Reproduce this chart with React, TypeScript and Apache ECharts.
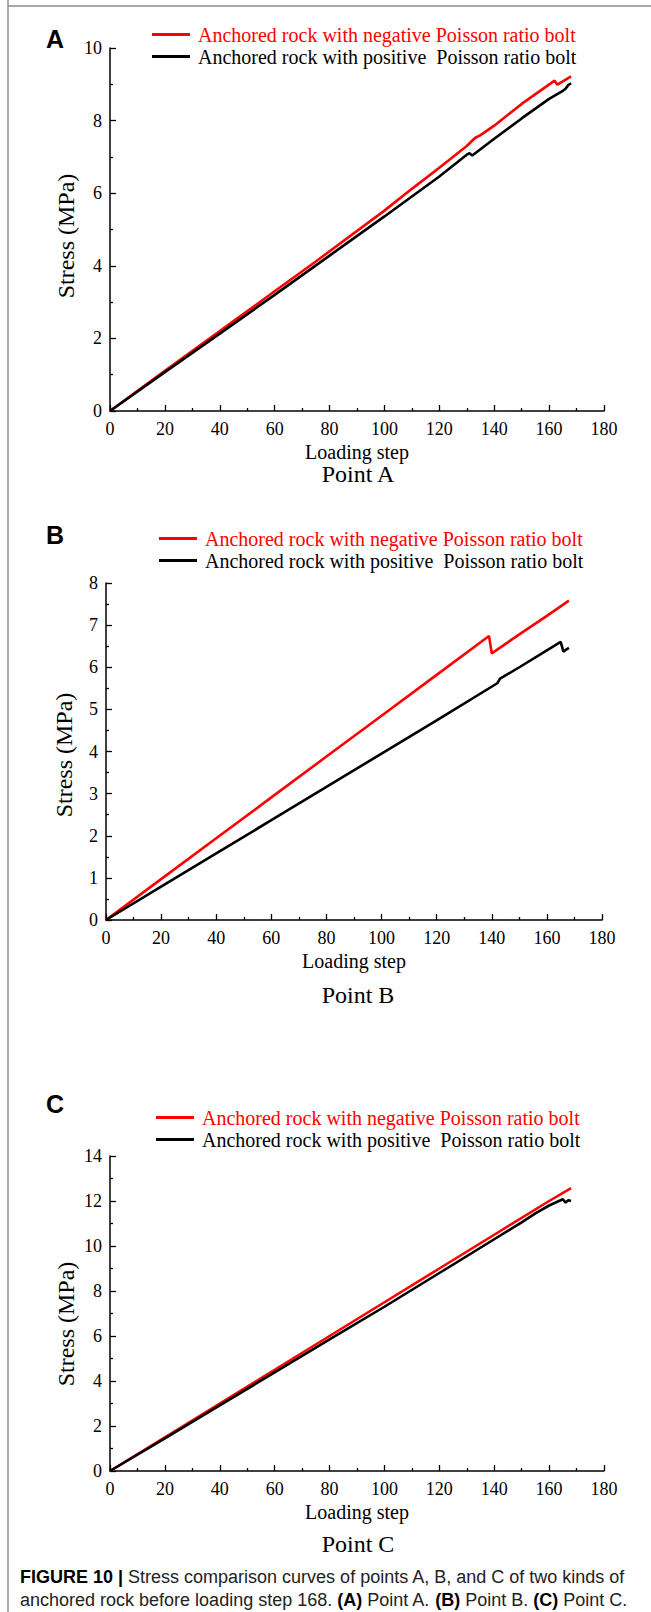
import React, { useEffect, useRef } from "react";
import * as echarts from "echarts";

// ---------- data ----------
const NEG = "Anchored rock with negative Poisson ratio bolt";
const POS = "Anchored rock with positive  Poisson ratio bolt";

const xMin = 0;
const xMax = 180;
const xStep = 20;

// Panel A (Point A)
const aNegative: number[][] = [
  [0, 0], [20, 1.11], [40, 2.2], [60, 3.3], [75, 4.12], [100, 5.52], [110, 6.12],
  [120, 6.7], [130, 7.3], [133, 7.52], [135, 7.6], [140, 7.86], [150, 8.46],
  [162, 9.1], [163, 8.99], [165, 9.08], [168, 9.22],
];
const aPositive: number[][] = [
  [0, 0], [20, 1.07], [40, 2.13], [60, 3.2], [80, 4.28], [100, 5.36], [120, 6.46],
  [130, 7.06], [131, 7.1], [132, 7.04], [140, 7.5], [150, 8.06], [160, 8.6],
  [165, 8.82], [166, 8.88], [167, 8.98], [168, 9.03],
];
const aYMax = 10;
const aYStep = 2;

// Panel B (Point B)
const bNegative: number[][] = [
  [0, 0], [20, 0.97], [40, 1.94], [60, 2.91], [80, 3.88], [100, 4.85], [120, 5.82],
  [139, 6.74], [140, 6.33], [150, 6.78], [160, 7.22], [168, 7.58],
];
const bPositive: number[][] = [
  [0, 0], [20, 0.79], [40, 1.58], [60, 2.37], [80, 3.16], [100, 3.95], [120, 4.74],
  [142, 5.62], [143, 5.73], [150, 6.0], [160, 6.4], [165, 6.6], [166, 6.37],
  [167, 6.42], [168, 6.46],
];
const bYMax = 8;
const bYStep = 1;

// Panel C (Point C)
const cNegative: number[][] = [
  [0, 0], [20, 1.5], [40, 3.0], [60, 4.5], [80, 6.0], [100, 7.5], [120, 9.0],
  [140, 10.5], [160, 12.0], [168, 12.57],
];
const cPositive: number[][] = [
  [0, 0], [20, 1.45], [40, 2.92], [60, 4.38], [80, 5.85], [100, 7.3], [120, 8.8],
  [140, 10.3], [150, 11.05], [155, 11.45], [160, 11.8], [165, 12.08], [166, 11.93],
  [167, 12.03], [168, 12.0],
];
const cYMax = 14;
const cYStep = 2;

const panelLetters = ["A", "B", "C"];
const panelTitles = ["Point A", "Point B", "Point C"];
const xAxisTitle = "Loading step";
const yAxisTitle = "Stress (MPa)";
const captionLine1 = "Stress comparison curves of points A, B, and C of two kinds of";
const captionLine2a = "anchored rock before loading step 168. ";

// ---------- layout ----------
const SERIF = "'Liberation Serif', 'Times New Roman', serif";
const SANS = "'Liberation Sans', Arial, sans-serif";

const grids = [
  { left: 110, top: 48, width: 494, height: 363 },
  { left: 106, top: 583, width: 496, height: 337 },
  { left: 110, top: 1156, width: 494, height: 315 },
];
const legendTops = [19, 523, 1102];
const legendLefts = [147, 154, 151];
const letterPos = [[55, 39], [55, 535], [55, 1104]];
const pointTitleY = [474, 995, 1544];
const yTitlePos = [[66, 236], [64, 755], [66, 1324]];

function makeXAxis(gridIndex: number) {
  return {
    type: "value",
    gridIndex,
    min: xMin,
    max: xMax,
    interval: xStep,
    name: xAxisTitle,
    nameLocation: "middle",
    nameGap: 31,
    nameTextStyle: { fontFamily: SERIF, fontSize: 20, color: "#000" },
    axisLine: { show: true, onZero: false, lineStyle: { color: "#000", width: 1.5 } },
    axisTick: { show: true, inside: true, length: 6, lineStyle: { color: "#000", width: 1.3 } },
    minorTick: { show: true, splitNumber: 2, length: 3, lineStyle: { color: "#000", width: 1.3 } },
    splitLine: { show: false },
    axisLabel: { color: "#000", fontFamily: SERIF, fontSize: 18, margin: 9 },
  };
}

function makeYAxis(gridIndex: number, max: number, step: number) {
  return {
    type: "value",
    gridIndex,
    min: 0,
    max,
    interval: step,
    axisLine: { show: true, onZero: false, lineStyle: { color: "#000", width: 1.5 } },
    axisTick: { show: true, inside: true, length: 6, lineStyle: { color: "#000", width: 1.3 } },
    minorTick: { show: true, splitNumber: 2, length: 3, lineStyle: { color: "#000", width: 1.3 } },
    splitLine: { show: false },
    axisLabel: { color: "#000", fontFamily: SERIF, fontSize: 18, margin: 8 },
  };
}

function makeSeries(name: string, data: number[][], idx: number, color: string) {
  return {
    type: "line",
    name,
    xAxisIndex: idx,
    yAxisIndex: idx,
    data,
    showSymbol: false,
    symbol: "none",
    lineStyle: { color, width: 2.6 },
    itemStyle: { color },
    silent: true,
  };
}

export default function App() {
  const ref = useRef<HTMLDivElement>(null);

  useEffect(() => {
    if (!ref.current) return;
    const chart = echarts.init(ref.current, null, { renderer: "svg" });

    const legends = legendTops.map((top, i) => ({
      top,
      left: legendLefts[i],
      orient: "vertical",
      icon: "rect",
      itemWidth: 38,
      itemHeight: 3,
      itemGap: 1,
      selectedMode: false,
      textStyle: { fontFamily: SERIF, fontSize: 20, color: "#000", lineHeight: 21, padding: [0, 0, 0, 3] },
      data: [
        { name: NEG, textStyle: { color: "#ff0000", fontFamily: SERIF, fontSize: 20 } },
        { name: POS, textStyle: { color: "#000", fontFamily: SERIF, fontSize: 20 } },
      ],
    }));

    const graphics: any[] = [
      { type: "line", shape: { x1: 8, y1: 0, x2: 8, y2: 1612 }, style: { stroke: "#8c8c8c", lineWidth: 1.5 } },
      { type: "line", shape: { x1: 8, y1: 6, x2: 651, y2: 6 }, style: { stroke: "#8c8c8c", lineWidth: 1.5 } },
    ];
    panelLetters.forEach((t, i) => {
      graphics.push({
        type: "text",
        x: letterPos[i][0],
        y: letterPos[i][1],
        style: { text: t, font: `bold 25px ${SANS}`, fill: "#000", align: "center", verticalAlign: "middle" },
      });
      graphics.push({
        type: "text",
        x: 358,
        y: pointTitleY[i],
        style: { text: panelTitles[i], font: `24px ${SERIF}`, fill: "#000", align: "center", verticalAlign: "middle" },
      });
      graphics.push({
        type: "text",
        x: yTitlePos[i][0],
        y: yTitlePos[i][1],
        rotation: Math.PI / 2,
        style: { text: yAxisTitle, font: `24px ${SERIF}`, fill: "#000", align: "center", verticalAlign: "middle" },
      });
    });
    graphics.push({
      type: "text",
      x: 20,
      y: 1577,
      style: {
        text: "{b|FIGURE 10 |} " + captionLine1,
        verticalAlign: "middle",
        rich: {
          b: { font: `bold 18px ${SANS}`, fill: "#000" },
        },
        font: `18px ${SANS}`,
        fill: "#222",
      },
    });
    graphics.push({
      type: "text",
      x: 20,
      y: 1600,
      style: {
        text: captionLine2a + "{b|(A)} Point A. {b|(B)} Point B. {b|(C)} Point C.",
        verticalAlign: "middle",
        rich: {
          b: { font: `bold 18px ${SANS}`, fill: "#000" },
        },
        font: `18px ${SANS}`,
        fill: "#222",
      },
    });

    const option: any = {
      animation: false,
      backgroundColor: "#fff",
      grid: grids.map((g) => ({ ...g, containLabel: false })),
      xAxis: [makeXAxis(0), makeXAxis(1), makeXAxis(2)],
      yAxis: [makeYAxis(0, aYMax, aYStep), makeYAxis(1, bYMax, bYStep), makeYAxis(2, cYMax, cYStep)],
      legend: legends,
      series: [
        makeSeries(NEG, aNegative, 0, "#ff0000"),
        makeSeries(POS, aPositive, 0, "#000000"),
        makeSeries(NEG, bNegative, 1, "#ff0000"),
        makeSeries(POS, bPositive, 1, "#000000"),
        makeSeries(NEG, cNegative, 2, "#ff0000"),
        makeSeries(POS, cPositive, 2, "#000000"),
      ],
      graphic: graphics,
    };
    chart.setOption(option);
    return () => chart.dispose();
  }, []);

  return (
    <div
      ref={ref}
      style={{ position: "absolute", left: 0, top: 0, width: 651, height: 1612, background: "#fff" }}
    />
  );
}
